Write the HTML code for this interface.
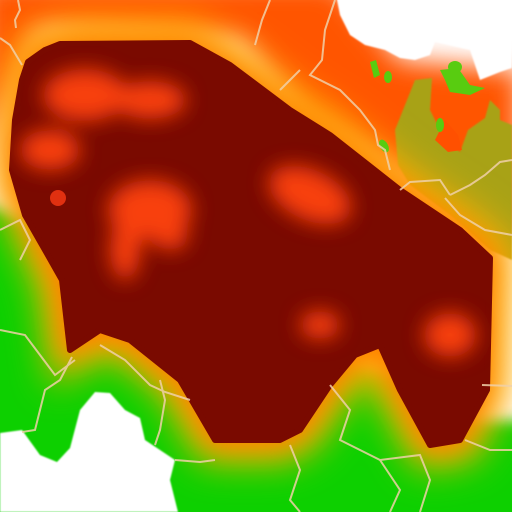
<!DOCTYPE html>
<html><head><meta charset="utf-8"><style>
html,body{margin:0;padding:0;background:#fff;}
svg{display:block;max-width:100%;max-height:100%;}
</style></head><body>
<svg width="512" height="512" viewBox="0 0 512 512" xmlns="http://www.w3.org/2000/svg">
<defs>
<filter id="b30" x="-50%" y="-50%" width="200%" height="200%"><feGaussianBlur stdDeviation="18"/></filter>
<filter id="b15" x="-50%" y="-50%" width="200%" height="200%"><feGaussianBlur stdDeviation="13"/></filter>
<filter id="b11" x="-50%" y="-50%" width="200%" height="200%"><feGaussianBlur stdDeviation="10"/></filter>
<filter id="b8" x="-50%" y="-50%" width="200%" height="200%"><feGaussianBlur stdDeviation="7"/></filter>
<filter id="b1" x="-20%" y="-20%" width="140%" height="140%"><feGaussianBlur stdDeviation="0.8"/></filter>
</defs>
<rect width="512" height="512" fill="#ffffff"/>
<g filter="url(#b8)">
<path d="M-20,200 L120,260 L250,330 L420,380 L470,420 L540,420 L540,540 L-20,540 Z" fill="#10d000"/>
</g>
<g filter="url(#b15)">
<path d="M-20,-20 L335,-20 L400,60 L520,70 L520,240 L480,235 L400,175 L300,115 L240,40 L40,30 L0,120 L-20,190 Z" fill="#ff5500"/>
</g>
<g>
<path filter="url(#b1)" d="M415,80 L432,78 L430,110 L445,140 L460,152 L468,130 L485,118 L490,100 L500,110 L500,120 L512,125 L512,260 L490,250 L450,215 L410,185 L398,165 L395,130 Z" fill="#a8a218"/>
</g>
<g filter="url(#b30)">
<path d="M40,50 L80,42 L190,43 L230,65 L290,110 L330,135 L400,190 L460,230 L490,255 L485,390 L460,440 L430,445 L400,390 L380,345 L355,355 L330,385 L300,430 L280,440 L215,440 L180,380 L130,340 L100,330 L70,350 L60,280 L45,250 L15,180 L20,120 L30,70 Z" fill="#ffb000" stroke="#ffb000" stroke-width="44"/>
</g>
<g filter="url(#b15)">
<path d="M40,50 L80,42 L190,43 L230,65 L290,110 L330,135 L400,190 L460,230 L490,255 L485,390 L460,440 L430,445 L400,390 L380,345 L355,355 L330,385 L300,430 L280,440 L215,440 L180,380 L130,340 L100,330 L70,350 L60,280 L45,250 L15,180 L20,120 L30,70 Z" fill="#ff7000" stroke="#ff7000" stroke-width="12" opacity="0.8"/>
</g>
<g>
<path d="M435,140 L448,152 L462,150 L458,135 L445,120 Z" fill="#ff5000"/>
<path d="M440,70 L458,68 L470,85 L485,88 L470,95 L450,92 L445,80 Z" fill="#58cc10"/>
<ellipse cx="455" cy="67" rx="7" ry="6" fill="#58cc10"/>
<path d="M370,62 L376,60 L380,75 L374,78 Z" fill="#58cc10"/>
<ellipse cx="388" cy="77" rx="4" ry="6" fill="#58cc10"/>
<ellipse cx="440" cy="125" rx="4" ry="7" fill="#58cc10"/>
<ellipse cx="384" cy="146" rx="4" ry="7" fill="#58cc10" transform="rotate(-30 384 146)"/>
</g>
<g filter="url(#b1)">
<path d="M0,433 L22,430 L40,455 L57,462 L70,448 L80,410 L95,392 L110,393 L125,410 L140,418 L145,440 L160,450 L175,460 L170,480 L178,512 L0,512 Z" fill="#fff"/>
<path d="M335,-10 L340,15 L350,35 L365,45 L385,50 L400,58 L415,60 L430,55 L435,42 L470,50 L480,80 L500,72 L512,68 L512,-10 Z" fill="#fff"/>
</g>
<path d="M28,62 L45,50 L60,44 L190,43 L230,65 L290,110 L330,135 L400,190 L460,230 L490,258 L487,390 L460,440 L430,445 L400,390 L380,345 L355,355 L330,385 L300,430 L280,440 L215,440 L180,380 L130,340 L100,330 L70,350 L62,280 L45,250 L25,215 L12,170 L15,120 L22,80 Z" fill="#7a0a00" stroke="#7a0a00" stroke-width="6" stroke-linejoin="round"/>
<g filter="url(#b11)" fill="#f84008">
<ellipse cx="85" cy="95" rx="42" ry="26"/>
<ellipse cx="150" cy="100" rx="36" ry="19"/>
<ellipse cx="50" cy="150" rx="30" ry="20"/>
<ellipse cx="150" cy="210" rx="42" ry="30"/>
<ellipse cx="170" cy="235" rx="18" ry="15"/>
<ellipse cx="125" cy="250" rx="15" ry="30"/>
<ellipse cx="310" cy="195" rx="44" ry="25" transform="rotate(25 310 195)"/>
<ellipse cx="450" cy="335" rx="26" ry="22"/>
<ellipse cx="320" cy="325" rx="20" ry="14"/>
</g>
<circle cx="58" cy="198" r="8" fill="#e03010"/>
<g fill="none" stroke="#f0d0a8" stroke-width="2" opacity="0.85">
<path d="M18,0 L20,10 L15,20 L16,28"/>
<path d="M0,38 L10,45 L22,65"/>
<path d="M0,230 L20,220 L30,240 L20,260"/>
<path d="M0,330 L25,335 L40,355 L55,375 L75,360"/>
<path d="M72,357 L60,380 L45,390 L40,410 L35,430 L22,432"/>
<path d="M100,345 L125,360 L150,385 L165,392 L190,400"/>
<path d="M160,380 L165,400 L160,430 L155,445"/>
<path d="M175,460 L200,462 L215,460"/>
<path d="M290,445 L300,470 L290,500 L300,512"/>
<path d="M330,385 L350,410 L340,440 L380,460 L420,455 L430,480 L420,512"/>
<path d="M380,460 L400,490 L390,512"/>
<path d="M465,440 L490,450 L512,450"/>
<path d="M482,385 L512,386"/>
<path d="M335,0 L325,30 L322,60 L310,75 L340,90 L360,110 L375,130 L378,145 L385,150 L390,170"/>
<path d="M300,70 L290,80 L280,90"/>
<path d="M400,190 L410,182 L440,180 L450,195"/>
<path d="M450,195 L470,185 L485,175 L500,162 L512,160"/>
<path d="M445,198 L460,215 L485,230 L512,235"/>
<path d="M270,0 L262,20 L255,45"/>
</g>
</svg>
</body></html>
